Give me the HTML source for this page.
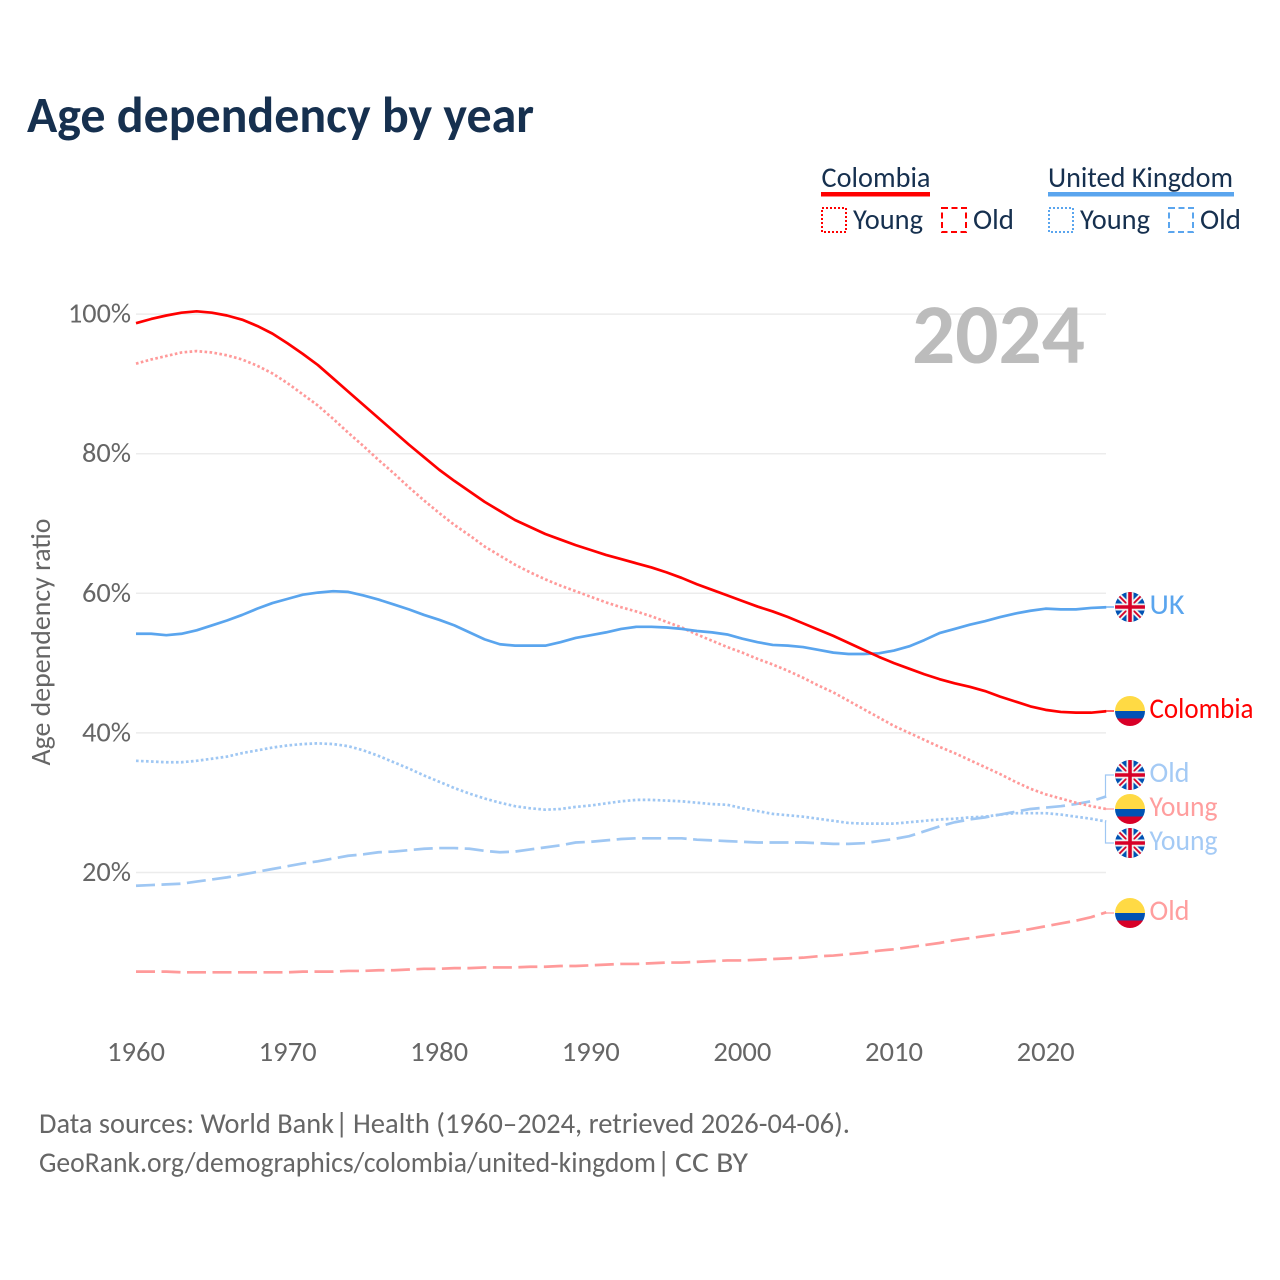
<!DOCTYPE html>
<html lang="en">
<head>
<meta charset="utf-8">
<title>Age dependency by year</title>
<style>
html,body{margin:0;padding:0;background:#fff;width:1280px;height:1280px;overflow:hidden}
svg{display:block}
text{font-family:"Carlito","Lato","Liberation Sans",sans-serif}
</style>
</head>
<body>
<svg id="chart" xmlns="http://www.w3.org/2000/svg" width="1280" height="1280" viewBox="0 0 1280 1280">
  <defs>
    <clipPath id="flag-clip"><circle cx="0" cy="0" r="15"/></clipPath>
    <g id="flag-uk" clip-path="url(#flag-clip)">
      <rect x="-15" y="-15" width="30" height="30" fill="#0052b4"/>
      <path d="M-15-15L15 15M15-15L-15 15" stroke="#f0f0f0" stroke-width="5.5"/>
      <path d="M-15-15L15 15M15-15L-15 15" stroke="#d80027" stroke-width="1.8"/>
      <path d="M0-15V15M-15 0H15" stroke="#f0f0f0" stroke-width="7"/>
      <path d="M0-15V15M-15 0H15" stroke="#d80027" stroke-width="3.6"/>
    </g>
    <g id="flag-co" clip-path="url(#flag-clip)">
      <rect x="-15" y="-15" width="30" height="15" fill="#ffda44"/>
      <rect x="-15" y="0" width="30" height="7.5" fill="#0052b4"/>
      <rect x="-15" y="7.5" width="30" height="7.5" fill="#d80027"/>
    </g>
  </defs>

  <text x="27" y="132" font-size="51" font-weight="700" fill="#16304f" textLength="507" lengthAdjust="spacingAndGlyphs">Age dependency by year</text>

  <g>
    <text x="821.5" y="187" font-size="29" fill="#16304f" textLength="109" lengthAdjust="spacingAndGlyphs">Colombia</text>
    <rect x="821" y="192" width="109" height="4.5" fill="#ff0000"/>
    <rect x="822" y="208" width="24" height="24" fill="none" stroke="#ff0000" stroke-width="2" stroke-dasharray="2 2"/>
    <text x="853" y="229" font-size="29" fill="#16304f" textLength="70" lengthAdjust="spacingAndGlyphs">Young</text>
    <rect x="942" y="208" width="24" height="24" fill="none" stroke="#ff0000" stroke-width="2" stroke-dasharray="6 3.5"/>
    <text x="973" y="229" font-size="29" fill="#16304f" textLength="41" lengthAdjust="spacingAndGlyphs">Old</text>

    <text x="1048" y="187" font-size="29" fill="#16304f" textLength="185" lengthAdjust="spacingAndGlyphs">United Kingdom</text>
    <rect x="1048" y="192" width="186" height="4.5" fill="#5aa5ee"/>
    <rect x="1049" y="208" width="24" height="24" fill="none" stroke="#5aa5ee" stroke-width="2" stroke-dasharray="2 2"/>
    <text x="1080" y="229" font-size="29" fill="#16304f" textLength="70" lengthAdjust="spacingAndGlyphs">Young</text>
    <rect x="1169" y="208" width="24" height="24" fill="none" stroke="#5aa5ee" stroke-width="2" stroke-dasharray="6 3.5"/>
    <text x="1200" y="229" font-size="29" fill="#16304f" textLength="41" lengthAdjust="spacingAndGlyphs">Old</text>
  </g>

  <g id="grid"></g>
  <g id="y-ticks"></g>
  <g id="x-ticks"></g>

  <text x="0" y="0" transform="translate(50 642) rotate(-90)" text-anchor="middle" font-size="28" fill="#666" textLength="247" lengthAdjust="spacingAndGlyphs">Age dependency ratio</text>

  <text x="1085" y="363" text-anchor="end" font-size="85" font-weight="700" fill="#bcbcbc" textLength="173" lengthAdjust="spacingAndGlyphs">2024</text>

  <g id="series"></g>
  <g id="connectors"></g>

  <g>
    <use href="#flag-uk" x="1130" y="607"/>
    <text x="1149.5" y="614" font-size="29" fill="#5aa5ee" textLength="35" lengthAdjust="spacingAndGlyphs">UK</text>
    <use href="#flag-co" x="1130" y="711"/>
    <text x="1149.5" y="718" font-size="29" fill="#ff0000" textLength="104" lengthAdjust="spacingAndGlyphs">Colombia</text>
    <use href="#flag-uk" x="1130" y="775"/>
    <text x="1149.5" y="782" font-size="29" fill="#a4caf5" textLength="40" lengthAdjust="spacingAndGlyphs">Old</text>
    <use href="#flag-co" x="1130" y="809"/>
    <text x="1149.5" y="816" font-size="29" fill="#ff9e9e" textLength="68" lengthAdjust="spacingAndGlyphs">Young</text>
    <use href="#flag-uk" x="1130" y="843"/>
    <text x="1149.5" y="850" font-size="29" fill="#a4caf5" textLength="68" lengthAdjust="spacingAndGlyphs">Young</text>
    <use href="#flag-co" x="1130" y="913"/>
    <text x="1149.5" y="920" font-size="29" fill="#ff9e9e" textLength="40" lengthAdjust="spacingAndGlyphs">Old</text>
  </g>

  <g font-size="29" fill="#666">
    <text x="39" y="1133" textLength="295" lengthAdjust="spacingAndGlyphs">Data sources: World Bank</text>
    <text x="335" y="1133">|</text>
    <text x="353" y="1133" textLength="497" lengthAdjust="spacingAndGlyphs">Health (1960–2024, retrieved 2026-04-06).</text>
    <text x="39" y="1172" textLength="617" lengthAdjust="spacingAndGlyphs">GeoRank.org/demographics/colombia/united-kingdom</text>
    <text x="657" y="1172">|</text>
    <text x="675" y="1172" textLength="73" lengthAdjust="spacingAndGlyphs">CC BY</text>
  </g>
</svg>

<script>
const startYear = 1960;
const xTickYears = [1960, 1970, 1980, 1990, 2000, 2010, 2020];
const yTickValues = [20, 40, 60, 80, 100];
const yTickLabels = ['20%', '40%', '60%', '80%', '100%'];

const colombiaTotal = [98.7,99.3,99.8,100.2,100.4,100.2,99.8,99.2,98.3,97.2,
  95.8,94.3,92.7,90.8,88.9,87.0,85.1,83.2,81.3,79.5,
  77.7,76.1,74.6,73.1,71.8,70.5,69.5,68.5,67.7,66.9,
  66.2,65.5,64.9,64.3,63.7,63.0,62.2,61.3,60.5,59.7,
  58.9,58.1,57.4,56.6,55.7,54.8,53.9,52.9,51.9,50.9,
  50.0,49.2,48.4,47.7,47.1,46.6,46.0,45.2,44.5,43.8,
  43.3,43.0,42.9,42.9,43.1];
const colombiaYoung = [92.9,93.5,94.0,94.5,94.7,94.5,94.1,93.5,92.6,91.5,
  90.1,88.5,86.9,85.0,83.0,81.1,79.1,77.2,75.2,73.3,
  71.5,69.8,68.3,66.7,65.4,64.1,63.0,62.0,61.1,60.3,
  59.5,58.7,58.0,57.4,56.7,55.9,55.1,54.1,53.2,52.3,
  51.5,50.6,49.8,48.9,47.9,46.8,45.8,44.6,43.4,42.2,
  41.0,40.0,39.0,38.0,37.1,36.1,35.1,34.1,33.0,32.0,
  31.2,30.6,30.0,29.5,29.1];
const colombiaOld = [5.8,5.8,5.8,5.7,5.7,5.7,5.7,5.7,5.7,5.7,
  5.7,5.8,5.8,5.8,5.9,5.9,6.0,6.0,6.1,6.2,
  6.2,6.3,6.3,6.4,6.4,6.4,6.5,6.5,6.6,6.6,
  6.7,6.8,6.9,6.9,7.0,7.1,7.1,7.2,7.3,7.4,
  7.4,7.5,7.6,7.7,7.8,8.0,8.1,8.3,8.5,8.8,
  9.0,9.3,9.6,9.9,10.3,10.6,10.9,11.2,11.5,11.9,
  12.3,12.7,13.1,13.6,14.3];
const ukTotal = [54.2,54.2,54.0,54.2,54.7,55.4,56.1,56.9,57.8,58.6,
  59.2,59.8,60.1,60.3,60.2,59.7,59.1,58.4,57.7,56.9,
  56.2,55.4,54.4,53.4,52.7,52.5,52.5,52.5,53.0,53.6,
  54.0,54.4,54.9,55.2,55.2,55.1,54.9,54.6,54.4,54.1,
  53.5,53.0,52.6,52.5,52.3,51.9,51.5,51.3,51.3,51.4,
  51.8,52.4,53.3,54.3,54.9,55.5,56.0,56.6,57.1,57.5,
  57.8,57.7,57.7,57.9,58.0];
const ukYoung = [36.0,35.9,35.8,35.8,36.0,36.3,36.6,37.1,37.5,37.9,
  38.2,38.4,38.5,38.4,38.1,37.5,36.7,35.8,34.9,33.9,
  33.0,32.1,31.3,30.6,30.0,29.5,29.2,29.0,29.1,29.4,
  29.6,29.9,30.2,30.4,30.4,30.3,30.2,30.0,29.8,29.7,
  29.2,28.8,28.4,28.2,28.0,27.7,27.4,27.1,27.0,27.0,
  27.0,27.2,27.4,27.6,27.7,27.9,28.0,28.3,28.5,28.5,
  28.5,28.3,28.0,27.7,27.3];
const ukOld = [18.1,18.2,18.3,18.4,18.7,19.0,19.3,19.7,20.1,20.5,
  20.9,21.3,21.6,22.0,22.4,22.6,22.9,23.0,23.2,23.4,
  23.5,23.5,23.4,23.1,22.9,23.0,23.3,23.6,23.9,24.3,
  24.4,24.6,24.8,24.9,24.9,24.9,24.9,24.7,24.6,24.5,
  24.4,24.3,24.3,24.3,24.3,24.2,24.1,24.1,24.2,24.5,
  24.8,25.2,25.9,26.6,27.2,27.6,27.9,28.3,28.7,29.1,
  29.3,29.5,29.8,30.2,30.9];

const NS = 'http://www.w3.org/2000/svg';
function xScale(year) { return 136 + (year - 1960) * 15.16; }
function yScale(value) { return 872.5 - (value - 20) * 6.98; }

function make(tag, attrs, parentId) {
  const el = document.createElementNS(NS, tag);
  for (const k in attrs) el.setAttribute(k, attrs[k]);
  document.getElementById(parentId).appendChild(el);
  return el;
}

yTickValues.forEach(function (v, i) {
  const line = make('line', { x1: 136, x2: 1106, y1: yScale(v), y2: yScale(v), stroke: '#ececec', 'stroke-width': 1.5 }, 'grid');
  
  
  const t = make('text', { x: 131, y: yScale(v) + 8.5, 'text-anchor': 'end', 'font-size': 28, fill: '#666' }, 'y-ticks');
  
  
  t.setAttribute('textLength', yTickLabels[i].length > 3 ? 63 : 49);
  t.setAttribute('lengthAdjust', 'spacingAndGlyphs');
  t.textContent = yTickLabels[i];
});

xTickYears.forEach(function (y) {
  const t = make('text', { x: xScale(y), y: 1061, 'text-anchor': 'middle', 'font-size': 28, fill: '#666', textLength: 58, lengthAdjust: 'spacingAndGlyphs' }, 'x-ticks');
  
  
  t.textContent = y;
});

function pathFor(values) {
  return values.map(function (v, i) {
    return (i ? 'L' : 'M') + xScale(startYear + i).toFixed(2) + ' ' + yScale(v).toFixed(2);
  }).join('');
}

function drawSeries(values, color, width, dash, name) {
  const p = make('path', { d: pathFor(values), fill: 'none', stroke: color, 'stroke-width': width, 'stroke-linejoin': 'round' }, 'series');
  if (dash) p.setAttribute('stroke-dasharray', dash);
  
  
}

const dotted = '2.6 2.4';
const dashed = '19 6.5';
drawSeries(colombiaOld, '#ff9a9a', 2.7, dashed, 'line-colombia-old');
drawSeries(ukOld, '#9fc7f3', 2.7, dashed, 'line-uk-old');
drawSeries(ukYoung, '#9fc7f3', 2.7, dotted, 'line-uk-young');
drawSeries(colombiaYoung, '#ff9a9a', 2.7, dotted, 'line-colombia-young');
drawSeries(ukTotal, '#5aa5ee', 2.7, null, 'line-uk-total');
drawSeries(colombiaTotal, '#ff0000', 2.7, null, 'line-colombia-total');

function drawConnector(values, labelY, color, name) {
  const last = yScale(values[values.length - 1]);
  const d = 'M1105.5 ' + last.toFixed(2) + 'V' + labelY + 'H1114';
  const c = make('path', { d: d, fill: 'none', stroke: color, 'stroke-width': 1.2 }, 'connectors');
  
  
}
drawConnector(ukTotal, 607, '#5aa5ee', 'connector-uk-total');
drawConnector(colombiaTotal, 711, '#ff0000', 'connector-colombia-total');
drawConnector(ukOld, 775, '#9fc7f3', 'connector-uk-old');
drawConnector(colombiaYoung, 809, '#ff9a9a', 'connector-colombia-young');
drawConnector(ukYoung, 843, '#9fc7f3', 'connector-uk-young');
drawConnector(colombiaOld, 913, '#ff9a9a', 'connector-colombia-old');
</script>
</body>
</html>
